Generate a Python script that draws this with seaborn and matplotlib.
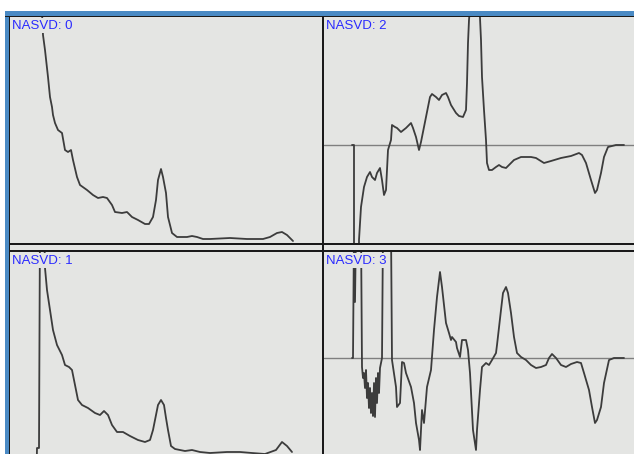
import matplotlib
matplotlib.use("Agg")
import matplotlib.pyplot as plt
from matplotlib.patches import Rectangle
import numpy as np
import pandas as pd
import seaborn as sns

# ---- NASVD component spectra (channel, amplitude) ----
chan0 = [31, 33, 35, 38, 40, 42, 43, 45, 48, 52, 55, 58, 61, 63, 67, 70, 77, 83, 88, 93,
         97, 102, 105, 112, 117, 122, 128, 135, 139, 143, 146, 148, 151, 153, 156, 158,
         162, 167, 177, 182, 187, 193, 200, 220, 237, 253, 260, 267, 272, 277, 283]
amp0 = [253, 208, 193, 166, 146, 136, 128, 120, 113, 110, 93, 91, 93, 83, 66, 58, 53, 48,
        45, 46, 45, 38, 31, 30, 31, 26, 23, 19, 19, 26, 43, 63, 74, 66, 50, 26, 10, 6, 6,
        7, 6, 4, 4, 5, 4, 4, 6, 10, 11, 8, 2]

chan1 = [26, 27, 29, 30, 34, 35, 37, 40, 43, 47, 52, 55, 59, 62, 65, 68, 72, 78, 85, 90,
         94, 98, 102, 107, 113, 120, 128, 135, 140, 143, 146, 148, 151, 154, 156, 158,
         161, 165, 175, 182, 190, 200, 217, 230, 242, 255, 266, 272, 277, 282]
amp1 = [-20, 30, 30, 260, 260, 210, 188, 168, 148, 133, 123, 113, 111, 108, 93, 78, 73,
        70, 65, 63, 67, 63, 53, 46, 46, 42, 38, 36, 38, 48, 63, 73, 78, 73, 60, 48, 32,
        29, 27, 28, 26, 25, 26, 26, 25, 24, 28, 36, 32, 26]

chan2 = [28, 30, 30, 35, 35, 37, 40, 43, 46, 48, 51, 53, 56, 58, 60, 62, 64, 67, 68, 71,
         73, 77, 82, 87, 89, 92, 95, 97, 102, 106, 108, 112, 115, 118, 122, 124, 127,
         132, 135, 139, 142, 143, 144, 145, 147, 151, 155, 156, 157, 158, 160, 162, 163,
         165, 168, 172, 175, 178, 182, 185, 190, 197, 207, 212, 220, 227, 237, 247, 255,
         258, 262, 267, 271, 273, 277, 280, 284, 288, 292, 300]
amp2 = [0, 0, -110, -110, -95, -62, -42, -32, -27, -32, -35, -28, -23, -35, -50, -45, -5,
        5, 20, 18, 17, 13, 17, 22, 17, 8, -5, 3, 28, 48, 51, 48, 45, 50, 52, 48, 40, 32,
        29, 28, 35, 62, 102, 125, 150, 200, 150, 127, 105, 68, 35, 5, -18, -25, -25, -22,
        -20, -22, -23, -20, -15, -12, -12, -13, -18, -16, -13, -11, -8, -10, -18, -35,
        -48, -45, -28, -12, -2, -1, 0, 0]

chan3 = [28, 29, 30, 31, 32, 37, 38, 39, 40, 41, 42, 43, 44, 45, 46, 47, 48, 49, 50, 51,
         52, 53, 54, 55, 56, 57, 58, 59, 67, 68, 72, 73, 76, 78, 80, 82, 87, 90, 92, 95,
         96, 97, 98, 100, 103, 107, 110, 113, 116, 118, 122, 125, 127, 128, 132, 133,
         136, 138, 142, 144, 146, 149, 152, 153, 156, 158, 162, 165, 168, 172, 173, 177,
         179, 182, 184, 187, 190, 193, 197, 202, 207, 212, 217, 222, 225, 228, 232, 237,
         242, 247, 253, 257, 260, 265, 268, 271, 273, 277, 280, 285, 290, 300]
amp3 = [0, 0, 130, 56, 130, 130, -9, -20, -15, -30, -12, -40, -25, -50, -30, -55, -35,
        -58, -25, -59, -20, -45, -15, -35, -10, -5, 0, 130, 130, -2, -29, -49, -45, -4, -5,
        -15, -29, -45, -65, -82, -92, -72, -52, -65, -29, -12, 28, 61, 86, 71, 35, 25, 18,
        21, 16, 10, 1, 18, 18, 8, -15, -72, -92, -72, -32, -9, -5, -7, -2, 5, 13, 48, 65,
        71, 65, 45, 21, 5, 1, -2, -7, -10, -9, -7, 0, 4, 0, -7, -9, -6, -4, -5, -15, -32,
        -49, -65, -62, -49, -25, -2, 0, 0]

labels = ["NASVD: 0", "NASVD: 1", "NASVD: 2", "NASVD: 3"]

# ---- styling ----
W, H = 634, 454
panel_bg = "#e4e5e3"
frame_blue = "#4a8ac4"
edge_dark = "#1a1a1a"
curve_col = "#3c3c3c"
zero_col = "#7f7f7f"
label_col = "#2a2aff"

sns.set_style("white")
plt.rcParams["font.family"] = ["Liberation Sans", "DejaVu Sans"]

fig = plt.figure(figsize=(W / 100, H / 100), dpi=100)
fig.patch.set_facecolor("white")


def rect_frac(l, t, r, b):
    return [l / W, 1 - b / H, (r - l) / W, (b - t) / H]


def fig_rect(l, t, r, b, color, z):
    x, y, w, h = rect_frac(l, t, r, b)
    fig.patches.append(Rectangle((x, y), w, h, transform=fig.transFigure,
                                 facecolor=color, edgecolor="none", zorder=z))


# window frame and backdrop
fig_rect(5, 11, W, H, frame_blue, -3)
fig_rect(9, 16, W, H, panel_bg, -2)

panels = [
    (chan0, amp0, (10, 17, 322, 243), (0, 226), False),
    (chan1, amp1, (10, 252, 322, 478), (0, 226), False),
    (chan2, amp2, (324, 17, 636, 243), (-98, 128), True),
    (chan3, amp3, (324, 252, 636, 478), (-120, 106), True),
]

for i, (ch, amp, box, ylim, zero_line) in enumerate(panels):
    ax = fig.add_axes(rect_frac(*box))
    ax.set_facecolor(panel_bg)
    df = pd.DataFrame({"channel": ch, "amplitude": amp})
    if zero_line:
        ax.axhline(0, color=zero_col, lw=1.0, zorder=1)
    sns.lineplot(data=df, x="channel", y="amplitude", ax=ax, sort=False,
                 estimator=None, color=curve_col, lw=1.3, zorder=2)
    ax.set_xlim(0, 312)
    ax.set_ylim(*ylim)
    ax.set_xlabel("")
    ax.set_ylabel("")
    ax.set_xticks([])
    ax.set_yticks([])
    for s in ax.spines.values():
        s.set_visible(False)
    ax.annotate(labels[i], xy=(0, 1), xycoords="axes fraction",
                xytext=(2.5, -2.5), textcoords="offset pixels",
                ha="left", va="top", fontsize=9.5, color=label_col, zorder=5,
                bbox=dict(facecolor=panel_bg, edgecolor="none", pad=1.2))

# dividers between the panes
fig_rect(5, 16, W, 17, edge_dark, 10)
fig_rect(9, 16, 10, H, edge_dark, 10)
fig_rect(322, 17, 324, H, edge_dark, 10)
fig_rect(9, 243, W, 245, edge_dark, 10)
fig_rect(9, 250, W, 252, edge_dark, 10)

fig.savefig("out.png", dpi=100)
